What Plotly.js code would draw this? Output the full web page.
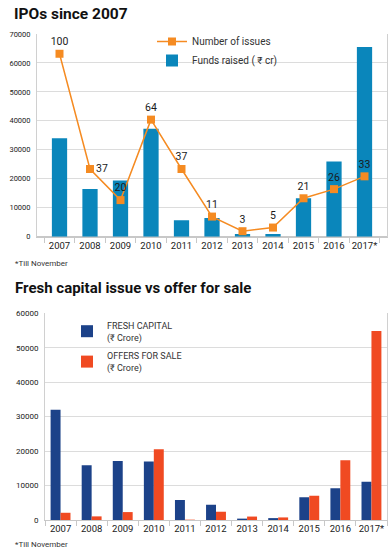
<!DOCTYPE html>
<html>
<head>
<meta charset="utf-8">
<script src="https://cdn.plot.ly/plotly-3.0.1.min.js"></script>
<style>
html,body{margin:0;padding:0;background:#fff;}
#chart{width:388px;height:550px;}
</style>
</head>
<body>
<div id="chart"></div>
<script>
const years = ['2007','2008','2009','2010','2011','2012','2013','2014','2015','2016','2017*'];
const fundsRaised = [34000, 16500, 19400, 37300, 5700, 6500, 900, 900, 13300, 26000, 65500];
const numIssues = [100, 37, 20, 64, 37, 11, 3, 5, 21, 26, 33];
const issueLabelPos = ['top center','middle right','top center','top center','top center','top center','top center','top center','top center','top center','top center'];
const freshCapital = [32000, 15900, 17150, 16950, 5800, 4450, 400, 550, 6600, 9200, 11100];
const offersForSale = [2100, 1050, 2300, 20550, 100, 2400, 1000, 750, 7050, 17350, 54850];
const ticks1 = [0, 10000, 20000, 30000, 40000, 50000, 60000, 70000];
const ticks2 = [0, 10000, 20000, 30000, 40000, 50000, 60000];

const FONT = 'Roboto, "Noto Sans", sans-serif';
const W = 388, H = 550;
const px = v => v / W;
const py = v => 1 - v / H;

const data = [
  {
    type: 'scatter', mode: 'lines+markers+text', name: 'Number of issues',
    x: years, y: numIssues, xaxis: 'x', yaxis: 'y3',
    line: {color: '#f58b22', width: 1.5},
    marker: {symbol: 'square', size: 8, color: '#f58b22'},
    text: numIssues.map(String), textposition: issueLabelPos,
    textfont: {family: FONT, size: 10.5, color: '#1a1a1a'},
    cliponaxis: false, legend: 'legend'
  },
  {
    type: 'bar', name: 'Funds raised ( ₹ cr)',
    x: years, y: fundsRaised, xaxis: 'x', yaxis: 'y',
    marker: {color: '#0a86bb'}, width: 0.5, legend: 'legend'
  },
  {
    type: 'bar', name: 'FRESH CAPITAL<br>(₹ Crore)',
    x: years, y: freshCapital, xaxis: 'x2', yaxis: 'y2',
    marker: {color: '#1c4289'}, legend: 'legend2', legendgroup: 'fc'
  },
  {
    type: 'bar', name: 'OFFERS FOR SALE<br>(₹ Crore)',
    x: years, y: offersForSale, xaxis: 'x2', yaxis: 'y2',
    marker: {color: '#f04a22'}, legend: 'legend2', legendgroup: 'ofs'
  }
];

const xBase = {
  type: 'category', showgrid: false, showline: true, linecolor: '#c8c8c8', linewidth: 1,
  ticks: 'outside', tickson: 'boundaries', ticklen: 5, tickcolor: '#c8c8c8', tickangle: 0,
  tickfont: {family: FONT, size: 9.5, color: '#1a1a1a'}, fixedrange: true
};
const yBase = {
  showgrid: true, gridcolor: '#dcdcdc', gridwidth: 1, showline: true, linecolor: '#d0d0d0',
  mirror: true, zeroline: true, zerolinecolor: '#c8c8c8', ticks: '', ticklabelstandoff: 4,
  tickfont: {family: FONT, size: 7.5, color: '#1a1a1a'}, fixedrange: true
};

const layout = {
  width: W, height: H,
  margin: {l: 0, r: 0, t: 0, b: 0},
  paper_bgcolor: '#fff', plot_bgcolor: '#fff',
  showlegend: true,
  barmode: 'group', bargap: 0.36, bargroupgap: 0,
  xaxis: Object.assign({}, xBase, {domain: [px(37), px(387)], anchor: 'y'}),
  yaxis: Object.assign({}, yBase, {domain: [py(236.7), py(34)], anchor: 'x', range: [0, 70000], tickvals: ticks1, ticktext: ticks1.map(String)}),
  yaxis3: {overlaying: 'y', range: [0, 110.8], visible: false, showgrid: false, fixedrange: true},
  xaxis2: Object.assign({}, xBase, {domain: [px(45), px(387)], anchor: 'y2'}),
  yaxis2: Object.assign({}, yBase, {domain: [py(520), py(313.3)], anchor: 'x2', range: [0, 60000], tickvals: ticks2, ticktext: ticks2.map(String), tickfont: {family: FONT, size: 8, color: '#1a1a1a'}}),
  legend: {
    x: px(152), y: py(27), xanchor: 'left', yanchor: 'top',
    bgcolor: 'rgba(0,0,0,0)', borderwidth: 0, traceorder: 'normal',
    font: {family: FONT, size: 10, color: '#333'}
  },
  legend2: {
    x: px(67), y: py(313), xanchor: 'left', yanchor: 'top',
    bgcolor: 'rgba(0,0,0,0)', borderwidth: 0, traceorder: 'grouped', tracegroupgap: 4,
    font: {family: FONT, size: 9, color: '#333'}
  },
  annotations: [
    {text: '<b>IPOs since 2007</b>', xref: 'paper', yref: 'paper', x: px(12), y: py(3), xanchor: 'left', yanchor: 'top', showarrow: false, font: {family: FONT, size: 15.5, color: '#111'}},
    {text: '*Till November', xref: 'paper', yref: 'paper', x: px(13), y: py(257), xanchor: 'left', yanchor: 'top', showarrow: false, font: {family: FONT, size: 8, color: '#333'}},
    {text: '<b>Fresh capital issue vs offer for sale</b>', xref: 'paper', yref: 'paper', x: px(13), y: py(277), xanchor: 'left', yanchor: 'top', showarrow: false, font: {family: FONT, size: 15, color: '#111'}},
    {text: '*Till November', xref: 'paper', yref: 'paper', x: px(13), y: py(538), xanchor: 'left', yanchor: 'top', showarrow: false, font: {family: FONT, size: 8, color: '#333'}}
  ]
};

Plotly.newPlot('chart', data, layout, {displayModeBar: false, staticPlot: true});
</script>
</body>
</html>
